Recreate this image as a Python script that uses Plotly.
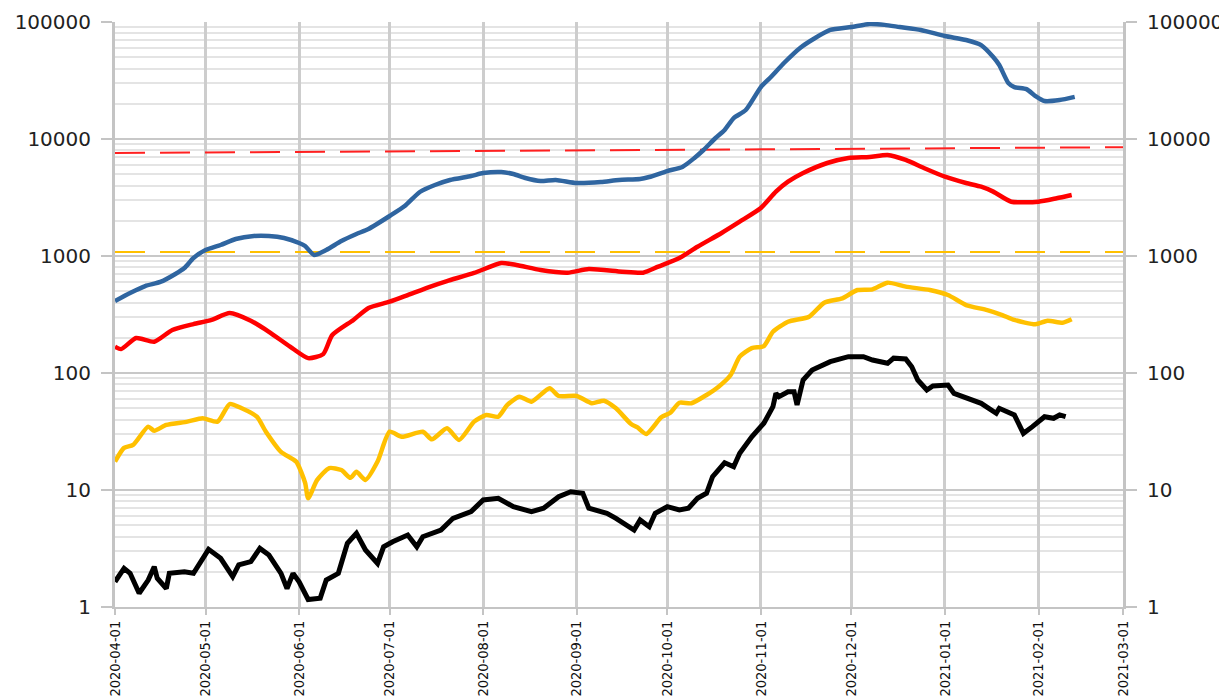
import pandas as pd
import plotly.graph_objects as go

START = "2020-04-01"
END = "2021-03-01"

# ---- data (days since 2020-04-01, values) ----
blue_days = [0, 5, 10, 15, 20, 23, 26, 30, 35, 40, 46, 51, 56, 61, 63, 66, 70, 75, 80, 84,
             91, 96, 101, 106, 111, 118, 122, 128, 132, 136, 141, 146, 153, 161, 167, 174, 177,
             183, 188, 192, 195, 199, 202, 205, 209, 214, 217, 222, 227, 232, 237, 244, 250,
             255, 260, 267, 275, 282, 287, 291, 293, 296, 298, 302, 305, 308, 313, 318]
blue_vals = [412, 483, 554, 600, 702, 789, 961, 1125, 1242, 1397, 1483, 1483, 1426, 1292, 1217,
             1020, 1125, 1343, 1542, 1702, 2198, 2674, 3524, 4045, 4467, 4830, 5118, 5224, 5020,
             4645, 4375, 4467, 4207, 4290, 4467, 4550, 4732, 5322, 5768, 6885, 8054, 10200, 11940,
             15100, 17700, 27800, 33200, 45500, 60000, 73000, 85500, 90600, 96100, 94500, 90600,
             85500, 75900, 70200, 63500, 50200, 42900, 30100, 27800, 26700, 23300, 21100, 21500,
             22900]

red_days = [0, 2, 7, 13, 19, 26, 32, 38, 45, 51, 58, 64, 69, 72, 79, 84, 91, 97, 105, 110,
            119, 128, 133, 141, 150, 157, 168, 175, 180, 187, 193, 201, 207, 214, 219, 223, 228,
            236, 243, 250, 256, 262, 268, 275, 282, 287, 291, 297, 306, 312, 317]
red_vals = [168, 160, 199, 185, 233, 262, 284, 326, 280, 225, 168, 134, 145, 211, 284, 360, 407,
            464, 554, 611, 716, 871, 838, 759, 720, 774, 734, 720, 811, 961, 1200, 1573, 1964,
            2570, 3548, 4315, 5118, 6237, 6885, 7015, 7300, 6620, 5650, 4760, 4207, 3910, 3548,
            2911, 2911, 3112, 3320]

orange_days = [0, 3, 6, 11, 13, 17, 24, 29, 34, 38, 42, 47, 50, 55, 60, 63, 64, 67, 71, 75, 78,
               80, 83, 87, 91, 95, 102, 105, 110, 114, 119, 123, 127, 130, 134, 138, 144, 147,
               153, 158, 162, 166, 171, 173, 176, 181, 184, 187, 191, 196, 200, 204, 207, 211,
               215, 218, 223, 230, 235, 241, 246, 251, 256, 262, 270, 276, 282, 289, 294, 298,
               305, 309, 314, 317]
orange_vals = [17.5, 22.9, 24.3, 34.8, 32.1, 36.0, 38.4, 41.0, 38.4, 54.3, 49.9, 42.3, 31.5,
               21.2, 17.5, 11.5, 8.49, 12.2, 15.4, 14.8, 12.7, 14.3, 12.2, 17.5, 31.5, 28.5,
               31.5, 27.1, 33.7, 26.8, 38.4, 43.8, 42.3, 53.3, 62.7, 56.9, 74.0, 63.6, 63.6,
               55.1, 58.0, 49.9, 36.6, 34.4, 30.1, 41.8, 45.8, 55.7, 55.1, 64.9, 76.4, 96.2, 138,
               163, 170, 225, 274, 303, 399, 435, 512, 519, 592, 547, 512, 464, 381, 345, 313,
               284, 261, 280, 269, 288]

black_days = [0, 3, 5, 8, 11, 13, 14, 17, 18, 23, 26, 28, 31, 35, 39, 41, 45, 48, 51, 55, 57,
              59, 61, 64, 68, 70, 74, 77, 80, 83, 87, 89, 92, 97, 100, 102, 108, 112, 118, 122,
              127, 132, 138, 142, 147, 151, 155, 157, 163, 166, 172, 174, 177, 179, 183, 187,
              190, 193, 196, 198, 202, 205, 207, 211, 215, 218, 219, 220, 223, 225, 226, 228,
              231, 237, 243, 248, 251, 256, 258, 262, 264, 266, 269, 271, 276, 278, 282, 287,
              292, 293, 298, 301, 304, 308, 311, 313, 315]
black_vals = [1.64, 2.14, 1.94, 1.31, 1.70, 2.21, 1.76, 1.44, 1.94, 2.00, 1.94, 2.36, 3.11,
              2.61, 1.82, 2.29, 2.44, 3.17, 2.78, 1.94, 1.44, 1.94, 1.64, 1.16, 1.19, 1.70,
              1.94, 3.50, 4.27, 3.07, 2.36, 3.27, 3.61, 4.12, 3.27, 3.99, 4.55, 5.73, 6.53,
              8.22, 8.49, 7.20, 6.53, 6.98, 8.77, 9.67, 9.37, 6.98, 6.32, 5.73, 4.55, 5.54,
              4.86, 6.32, 7.20, 6.75, 6.98, 8.49, 9.37, 13.0, 17.1, 15.8, 20.6, 28.5, 37.2,
              51.5, 67.0, 62.7, 69.2, 69.2, 53.3, 87.1, 106, 125, 138, 138, 129, 121, 134, 132,
              113, 87.1, 71.6, 77.4, 78.9, 67.0, 60.8, 55.1, 45.3, 49.9, 43.8, 30.5, 34.8,
              42.3, 41.0, 43.8, 42.3]

red_limit_days = [0, 334]
red_limit_vals = [7600, 8500]
orange_limit_days = [0, 334]
orange_limit_vals = [1080, 1080]

month_ticks = ["2020-04-01", "2020-05-01", "2020-06-01", "2020-07-01", "2020-08-01",
               "2020-09-01", "2020-10-01", "2020-11-01", "2020-12-01", "2021-01-01",
               "2021-02-01", "2021-03-01"]
y_ticks = [1, 10, 100, 1000, 10000, 100000]
y_ticktext = ["1", "10", "100", "1000", "10000", "100000"]


def to_dates(days):
    return pd.Timestamp(START) + pd.to_timedelta(days, unit="D")


minor_vals = [m * 10 ** e for e in range(0, 5) for m in range(2, 10)]

fig = go.Figure()
fig.add_trace(go.Scatter(x=to_dates(red_limit_days), y=red_limit_vals, mode="lines",
                         line=dict(color="#ff2020", width=2, dash="30px,15px"),
                         hoverinfo="skip", showlegend=False))
fig.add_trace(go.Scatter(x=to_dates(orange_limit_days), y=orange_limit_vals, mode="lines",
                         line=dict(color="#ffc000", width=2, dash="30px,15px"),
                         hoverinfo="skip", showlegend=False))
fig.add_trace(go.Scatter(x=to_dates(orange_limit_days), y=orange_limit_vals, mode="lines",
                         line=dict(width=0), opacity=0, yaxis="y2",
                         hoverinfo="skip", showlegend=False))
fig.add_trace(go.Scatter(x=to_dates(blue_days), y=blue_vals, mode="lines",
                         line=dict(color="#2f65a0", width=4.5, shape="spline", smoothing=0.6),
                         showlegend=False))
fig.add_trace(go.Scatter(x=to_dates(red_days), y=red_vals, mode="lines",
                         line=dict(color="#ff0000", width=4.5, shape="spline", smoothing=0.6),
                         showlegend=False))
fig.add_trace(go.Scatter(x=to_dates(orange_days), y=orange_vals, mode="lines",
                         line=dict(color="#ffc000", width=4.5, shape="spline", smoothing=0.6),
                         showlegend=False))
fig.add_trace(go.Scatter(x=to_dates(black_days), y=black_vals, mode="lines",
                         line=dict(color="#000000", width=5),
                         showlegend=False))

yfont = dict(family="DejaVu Sans", size=20, color="#222222")
common_y = dict(type="log", range=[0, 5], tickvals=y_ticks, ticktext=y_ticktext,
                tickfont=yfont, ticks="outside", ticklen=11, tickwidth=2,
                tickcolor="#c4c4c4", showline=True, linecolor="#c4c4c4", linewidth=3,
                zeroline=False, ticklabelstandoff=6)

fig.update_layout(
    width=1227, height=700,
    margin=dict(l=107, r=112, t=14, b=101, autoexpand=False),
    paper_bgcolor="white", plot_bgcolor="white",
    showlegend=False,
    xaxis=dict(type="date", range=[START, END], tickvals=month_ticks, ticktext=month_ticks,
               tickangle=-90, tickfont=dict(family="Liberation Sans Narrow, DejaVu Sans Condensed, Liberation Sans",
                                            size=14.5, color="#111111"),
               showgrid=True, gridcolor="#cdcdcd", gridwidth=3,
               ticks="outside", ticklen=6, tickwidth=2, tickcolor="#c4c4c4",
               showline=True, linecolor="#c4c4c4", linewidth=2, zeroline=False,
               automargin=False),
    yaxis=dict(**common_y, showgrid=True, gridcolor="#c8c8c8", gridwidth=2,
               minor=dict(tickvals=minor_vals, showgrid=True, gridcolor="#e4e4e4",
                          gridwidth=1.5, ticks=""),
               automargin=False),
    yaxis2=dict(**common_y, overlaying="y", side="right", showgrid=False, automargin=False),
)

fig.write_html("out.html")
